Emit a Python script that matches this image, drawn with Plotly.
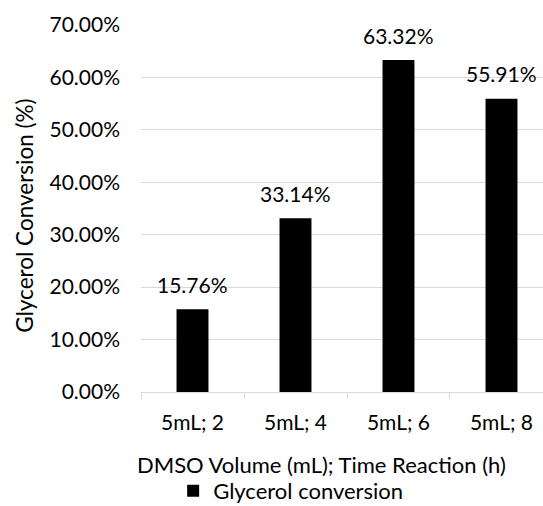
import plotly.graph_objects as go

categories = ["5mL; 2", "5mL; 4", "5mL; 6", "5mL; 8"]
conversion = [0.1576, 0.3314, 0.6332, 0.5591]
label_text = ["15.76%", "33.14%", "63.32%", "55.91%"]
y_ticks = [0, 0.1, 0.2, 0.3, 0.4, 0.5, 0.6, 0.7]
x_title = "DMSO Volume (mL); Time Reaction (h)"
y_title = "Glycerol Conversion (%)"

FONT = "Lato, 'Open Sans', sans-serif"
GRID = "#d9d9d9"

fig = go.Figure()
fig.add_trace(go.Bar(
    x=categories, y=conversion, name="Glycerol conversion",
    marker=dict(color="black", line=dict(width=0)),
    width=0.31,
))

for c, v, t in zip(categories, conversion, label_text):
    fig.add_annotation(x=c, y=v, text=t, showarrow=False, yanchor="middle",
                       yshift=25, font=dict(family=FONT, size=21, color="black"))

# axis titles
fig.add_annotation(xref="paper", yref="paper", x=0.449, y=-0.1975,
                   xanchor="center", yanchor="middle", showarrow=False,
                   text=x_title, font=dict(family=FONT, size=22, color="black"))
fig.add_annotation(xref="paper", yref="paper", x=-0.2886, y=0.48,
                   xanchor="center", yanchor="middle", showarrow=False,
                   textangle=-90, text=y_title,
                   font=dict(family=FONT, size=22.5, color="black"))

fig.update_layout(
    width=543, height=506,
    margin=dict(l=141, r=0, t=25, b=114, autoexpand=False),
    paper_bgcolor="white", plot_bgcolor="white",
    font=dict(family=FONT, size=21, color="black"),
    showlegend=True,
    legend=dict(orientation="h", x=0.08, xanchor="left",
                yref="container", y=1 - 491 / 506, yanchor="middle",
                font=dict(size=22), itemwidth=30),
    xaxis=dict(
        range=[-0.5, 3.403], automargin=False,
        showline=True, linecolor=GRID, linewidth=1,
        ticks="outside", tickson="boundaries", ticklen=6, tickcolor=GRID,
        showgrid=False,
        ticklabelstandoff=12,
        tickfont=dict(size=21),
    ),
    yaxis=dict(
        range=[0, 0.70], tickvals=y_ticks, tickformat=".2%", automargin=False,
        showgrid=True, gridcolor=GRID, gridwidth=1,
        zeroline=False, showline=False, ticks="",
        ticklabelstandoff=20,
        tickfont=dict(size=21),
    ),
)

fig.write_html("out.html")
